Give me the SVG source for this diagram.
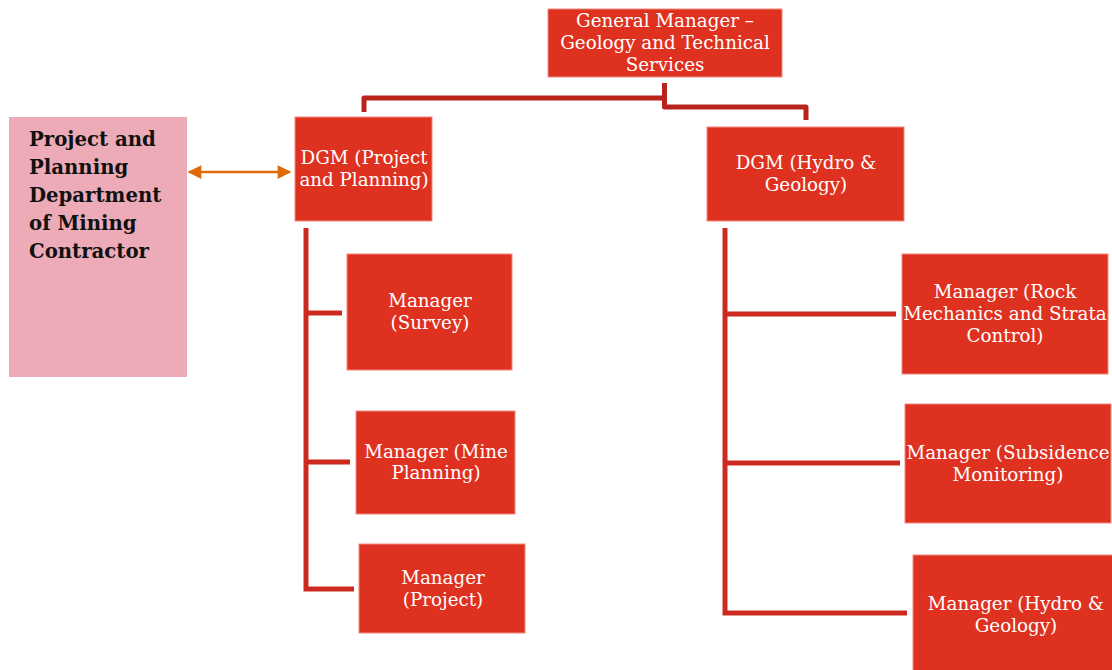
<svg xmlns="http://www.w3.org/2000/svg" width="1112" height="670" viewBox="0 0 1112 670">
<defs>
<style>
.box{fill:#DF3120;stroke:#F08A7E;stroke-width:1}
.t{font-family:"DejaVu Serif","Liberation Serif",serif;font-size:18.3px;fill:#FFFFFF;text-anchor:middle}
.b{font-family:"DejaVu Serif","Liberation Serif",serif;font-size:19.7px;font-weight:bold;fill:#111111}
.c{fill:none;stroke:#B8241C;stroke-width:5;stroke-linejoin:round}
.cl{fill:none;stroke:#CC2A1E;stroke-width:5}
</style>
<marker id="ah" viewBox="0 0 10 10" refX="9" refY="5" markerWidth="6" markerHeight="5.5" orient="auto-start-reverse">
<path d="M0,0 L10,5 L0,10 z" fill="#E06A0A"/>
</marker>
</defs>
<rect width="1112" height="670" fill="#FFFFFF"/>
<g id="connectors">
<path class="c" d="M664.5,83 V98 H364 V112"/>
<path class="c" d="M664.5,98 V107 H806 V120"/>
<path class="cl" d="M306,228 V589 H354 M306,313 H342 M306,462 H350"/>
<path class="cl" d="M725,228 V613 H907 M725,314 H896 M725,463 H900"/>
<line x1="189" y1="172" x2="290" y2="172" stroke="#E06A0A" stroke-width="2.5" marker-start="url(#ah)" marker-end="url(#ah)"/>
</g>
<g id="gm">
<rect class="box" x="548" y="9" width="234" height="68"/>
<text class="t" x="665" y="27">General Manager –</text>
<text class="t" x="665" y="49">Geology and Technical</text>
<text class="t" x="665" y="71">Services</text>
</g>
<g id="contractor">
<rect x="9" y="117" width="178" height="260" fill="#EDABB7"/>
<text class="b" x="29" y="146">Project and</text>
<text class="b" x="29" y="174">Planning</text>
<text class="b" x="29" y="202">Department</text>
<text class="b" x="29" y="230">of Mining</text>
<text class="b" x="29" y="258">Contractor</text>
</g>
<g id="dgm-pp">
<rect class="box" x="295" y="117" width="137" height="104"/>
<text class="t" x="364" y="164">DGM (Project</text>
<text class="t" x="364" y="186">and Planning)</text>
</g>
<g id="dgm-hg">
<rect class="box" x="707" y="127" width="197" height="94"/>
<text class="t" x="806" y="169">DGM (Hydro &amp;</text>
<text class="t" x="806" y="191">Geology)</text>
</g>
<g id="mgr-survey">
<rect class="box" x="347" y="254" width="165" height="116"/>
<text class="t" x="430" y="307">Manager</text>
<text class="t" x="430" y="329">(Survey)</text>
</g>
<g id="mgr-mine">
<rect class="box" x="356" y="411" width="159" height="103"/>
<text class="t" x="436" y="458">Manager (Mine</text>
<text class="t" x="436" y="479">Planning)</text>
</g>
<g id="mgr-project">
<rect class="box" x="359" y="544" width="166" height="89"/>
<text class="t" x="443" y="584">Manager</text>
<text class="t" x="443" y="606">(Project)</text>
</g>
<g id="mgr-rock">
<rect class="box" x="902" y="254" width="206" height="120"/>
<text class="t" x="1005" y="298">Manager (Rock</text>
<text class="t" x="1005" y="320">Mechanics and Strata</text>
<text class="t" x="1005" y="342">Control)</text>
</g>
<g id="mgr-subsidence">
<rect class="box" x="905" y="404" width="206" height="119"/>
<text class="t" x="1008" y="459">Manager (Subsidence</text>
<text class="t" x="1008" y="481">Monitoring)</text>
</g>
<g id="mgr-hydro">
<rect class="box" x="913" y="555" width="200" height="116"/>
<text class="t" x="1016" y="610">Manager (Hydro &amp;</text>
<text class="t" x="1016" y="632">Geology)</text>
</g>
</svg>
